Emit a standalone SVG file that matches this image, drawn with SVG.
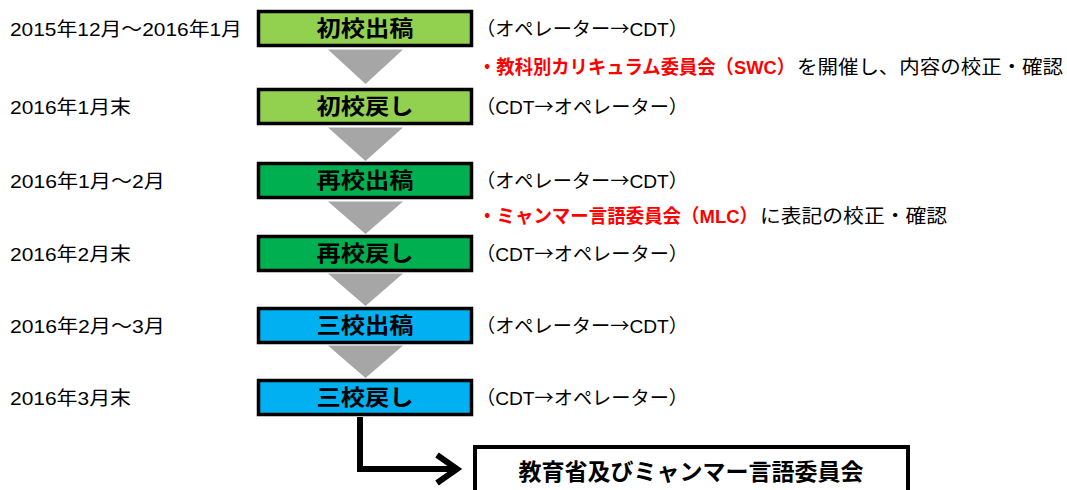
<svg xmlns="http://www.w3.org/2000/svg" width="1067" height="490" viewBox="0 0 1067 490">
<style>
text{font-family:"Liberation Sans","Noto Sans CJK JP",sans-serif;}
.lbl{font-size:19px;fill:#000;}
.arr{font-family:"Noto Sans CJK JP",sans-serif;}
.box{stroke:#000;stroke-width:3.5;}
.bt{font-size:22px;font-weight:bold;fill:#000;text-anchor:middle;}
.g1{fill:#92D050;}
.g2{fill:#00B050;}
.b3{fill:#00B0F0;}
.red{font-size:19px;font-weight:bold;fill:#FF0000;}
.tri{fill:#A6A6A6;}
.conn{fill:none;stroke:#000;stroke-width:6;stroke-linejoin:miter;}
</style>
<rect width="1067" height="490" fill="#fff"/>
<g id="dates">
<text class="lbl" x="10" y="36" textLength="232" lengthAdjust="spacingAndGlyphs">2015年12月～2016年1月</text>
<text class="lbl" x="10" y="114" textLength="121" lengthAdjust="spacingAndGlyphs">2016年1月末</text>
<text class="lbl" x="10" y="188" textLength="155" lengthAdjust="spacingAndGlyphs">2016年1月～2月</text>
<text class="lbl" x="10" y="261" textLength="121" lengthAdjust="spacingAndGlyphs">2016年2月末</text>
<text class="lbl" x="10" y="333" textLength="155" lengthAdjust="spacingAndGlyphs">2016年2月～3月</text>
<text class="lbl" x="10" y="405" textLength="121" lengthAdjust="spacingAndGlyphs">2016年3月末</text>
</g>
<g id="connectors">
<polygon class="tri" points="328,49.5 403,49.5 365.5,84"/>
<polygon class="tri" points="328,127.5 403,127.5 365.5,161"/>
<polygon class="tri" points="328,201.5 403,201.5 365.5,234"/>
<polygon class="tri" points="328,273.5 403,273.5 365.5,306"/>
<polygon class="tri" points="328,345.5 403,345.5 365.5,378"/>
<polyline class="conn" points="360,417 360,469 457,469"/>
<polyline class="conn" points="437,455 457,469 437,483"/>
</g>
<g id="n1"><rect class="box g1" x="258.5" y="11.5" width="213" height="34"/><text class="bt" x="365" y="36" textLength="97" lengthAdjust="spacingAndGlyphs">初校出稿</text></g>
<g id="n2"><rect class="box g1" x="258.5" y="89.5" width="213" height="34"/><text class="bt" x="365" y="114" textLength="97" lengthAdjust="spacingAndGlyphs">初校戻し</text></g>
<g id="n3"><rect class="box g2" x="258.5" y="163.5" width="213" height="34"/><text class="bt" x="365" y="188" textLength="97" lengthAdjust="spacingAndGlyphs">再校出稿</text></g>
<g id="n4"><rect class="box g2" x="258.5" y="236.5" width="213" height="34"/><text class="bt" x="365" y="261" textLength="97" lengthAdjust="spacingAndGlyphs">再校戻し</text></g>
<g id="n5"><rect class="box b3" x="258.5" y="308.5" width="213" height="34"/><text class="bt" x="365" y="333" textLength="97" lengthAdjust="spacingAndGlyphs">三校出稿</text></g>
<g id="n6"><rect class="box b3" x="258.5" y="380.5" width="213" height="34"/><text class="bt" x="365" y="405" textLength="97" lengthAdjust="spacingAndGlyphs">三校戻し</text></g>
<g id="n7"><rect x="475" y="447" width="433" height="70" fill="#fff" stroke="#000" stroke-width="4"/><text x="691" y="480" font-size="23" font-weight="bold" text-anchor="middle" textLength="345" lengthAdjust="spacingAndGlyphs">教育省及びミャンマー言語委員会</text></g>
<g id="notes">
<text class="lbl" x="476" y="36" textLength="212" lengthAdjust="spacingAndGlyphs">（オペレーター<tspan class="arr">→</tspan>CDT）</text>
<text class="lbl" x="476" y="114" textLength="212" lengthAdjust="spacingAndGlyphs">（CDT<tspan class="arr">→</tspan>オペレーター）</text>
<text class="lbl" x="476" y="188" textLength="212" lengthAdjust="spacingAndGlyphs">（オペレーター<tspan class="arr">→</tspan>CDT）</text>
<text class="lbl" x="476" y="261" textLength="212" lengthAdjust="spacingAndGlyphs">（CDT<tspan class="arr">→</tspan>オペレーター）</text>
<text class="lbl" x="476" y="333" textLength="212" lengthAdjust="spacingAndGlyphs">（オペレーター<tspan class="arr">→</tspan>CDT）</text>
<text class="lbl" x="476" y="405" textLength="212" lengthAdjust="spacingAndGlyphs">（CDT<tspan class="arr">→</tspan>オペレーター）</text>
<text class="red" x="478" y="74" textLength="317" lengthAdjust="spacingAndGlyphs">・教科別カリキュラム委員会（SWC）</text>
<text class="lbl" x="797" y="74" textLength="266" lengthAdjust="spacingAndGlyphs">を開催し、内容の校正・確認</text>
<text class="red" x="478" y="223" textLength="280" lengthAdjust="spacingAndGlyphs">・ミャンマー言語委員会（MLC）</text>
<text class="lbl" x="760" y="223" textLength="187" lengthAdjust="spacingAndGlyphs">に表記の校正・確認</text>
</g>
</svg>
